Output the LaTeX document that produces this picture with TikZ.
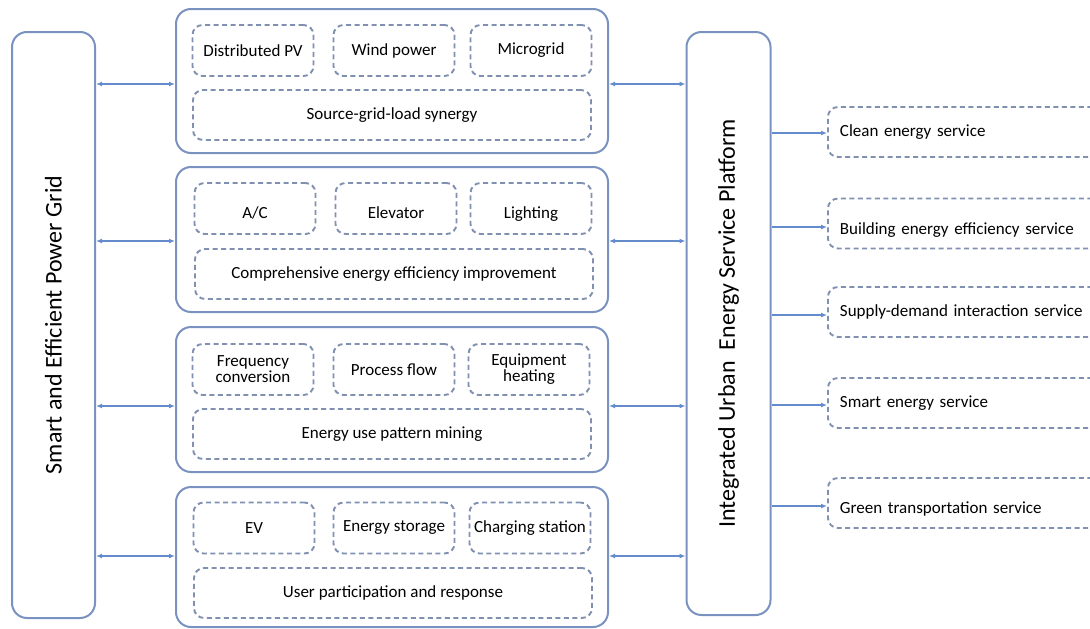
\documentclass[tikz,border=0pt]{standalone}
\usepackage{fontspec}
\setmainfont{Carlito}
\usetikzlibrary{arrows.meta}
\definecolor{boxline}{RGB}{122,146,192}
\definecolor{dashline}{RGB}{128,144,176}
\definecolor{arrowline}{RGB}{100,140,205}
\newcommand{\lowtext}[2]{\raisebox{-#1}[0pt][0pt]{#2}}
\begin{document}
\begin{tikzpicture}[x=1pt, y=-1pt,
  bigbox/.style={draw=boxline, line width=2pt, rounded corners=15pt, inner sep=0pt},
  groupbox/.style={bigbox, minimum width=432pt},
  itembox/.style={draw=dashline, line width=1.9pt, dash pattern=on 5pt off 3.5pt, rounded corners=10pt,
    minimum width=121pt, minimum height=51pt, align=center, inner sep=0pt, font=\fontsize{17}{19}\selectfont},
  widebox/.style={itembox, minimum width=398pt, minimum height=50pt},
  servicebox/.style={itembox, anchor=west, minimum width=300pt, minimum height=50pt,
    text width=276pt, align=left, inner xsep=12pt},
  link/.style={draw=arrowline, line width=1.2pt, {Latex[length=6pt,width=5pt]}-{Latex[length=6pt,width=5pt]}},
  feed/.style={draw=arrowline, line width=1.2pt, -{Latex[length=6pt,width=5pt]}}]

\useasboundingbox (0,0) rectangle (1090,629);

\node[bigbox, minimum width=83pt, minimum height=586pt] (grid) at (53.5,325) {};
\node[rotate=90, font=\fontsize{24}{27}\selectfont] at (grid) {Smart and Efficient Power Grid};
\node[bigbox, minimum width=84pt, minimum height=583pt] (platform) at (728.5,323.5) {};
\node[rotate=90, font=\fontsize{24}{27}\selectfont] at (platform) {Integrated Urban\ \ Energy Service Platform};

\node[groupbox, minimum height=144pt] (g1) at (392,81) {};
\node[groupbox, minimum height=145pt] (g2) at (392,239.5) {};
\node[groupbox, minimum height=145pt] (g3) at (392,399.5) {};
\node[groupbox, minimum height=140pt] (g4) at (392,557) {};

\node[itembox] (pv) at (253,50.5) {Distributed PV};
\node[itembox] (wind) at (394,50.5) {Wind power};
\node[itembox] (micro) at (531,50.5) {Microgrid};
\node[widebox] (synergy) at (392,115) {Source-grid-load synergy};

\node[itembox] (ac) at (255,208.5) {\lowtext{10pt}{A/C}};
\node[itembox] (elevator) at (396,208.5) {\lowtext{10pt}{Elevator}};
\node[itembox] (lighting) at (531,208.5) {\lowtext{10pt}{Lighting}};
\node[widebox] (efficiency) at (394,274) {Comprehensive energy efficiency improvement};

\node[itembox] (freq) at (253,369.5) {Frequency\\[-3pt]conversion};
\node[itembox] (process) at (394,369.5) {Process flow};
\node[itembox] (heating) at (529,369.5) {Equipment\\[-3pt]heating};
\node[widebox] (mining) at (392,434) {Energy use pattern mining};

\node[itembox] (ev) at (254,528) {EV};
\node[itembox] (storage) at (394,528) {Energy storage};
\node[itembox] (station) at (530,528) {Charging station};
\node[widebox] (response) at (393,593) {User participation and response};

\node[servicebox] (clean) at (827,132) {Clean energy service};
\node[servicebox] (building) at (827,223.5) {\lowtext{11pt}{Building energy efficiency service}};
\node[servicebox] (supply) at (827,312) {Supply-demand interaction service};
\node[servicebox] (smart) at (827,403) {Smart energy service};
\node[servicebox] (green) at (827,503) {\lowtext{10pt}{Green transportation service}};

\foreach \g/\d in {g1/3,g2/1.5,g3/6.5,g4/-1} {
  \draw[link] ([yshift=-\d pt]grid.east |- \g.west) -- ([yshift=-\d pt]\g.west);
  \draw[link] ([yshift=-\d pt]\g.east) -- ([yshift=-\d pt]platform.west |- \g.east);
}
\foreach \s/\d in {clean/1,building/3.5,supply/3,smart/2,green/3}
  \draw[feed] ([yshift=-\d pt]platform.east |- \s.west) -- ([yshift=-\d pt]\s.west);

\end{tikzpicture}
\end{document}
